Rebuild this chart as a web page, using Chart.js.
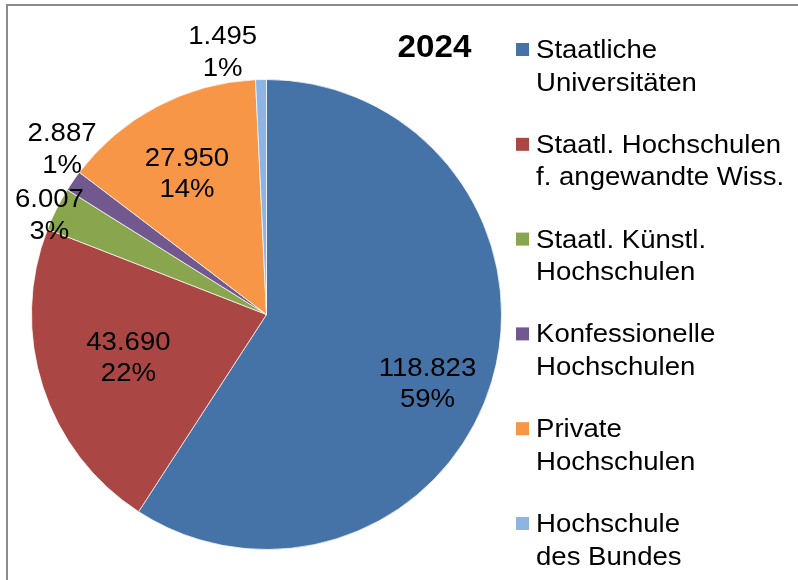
<!DOCTYPE html>
<html lang="de">
<head>
<meta charset="UTF-8">
<title>Studierende 2024</title>
<script src="https://cdn.jsdelivr.net/npm/chart.js"></script>
<style>
  html, body { margin: 0; padding: 0; background: #ffffff; }
  #wrap { position: relative; width: 798px; height: 580px; overflow: hidden; }
  #pie { display: block; }
</style>
</head>
<body>
<div id="wrap">
  <canvas id="pie" width="798" height="580"></canvas>
</div>
<script>
// --- data ---
const chartTitle = '2024';
const categories = [
  ['Staatliche', 'Universitäten'],
  ['Staatl. Hochschulen', 'f. angewandte Wiss.'],
  ['Staatl. Künstl.', 'Hochschulen'],
  ['Konfessionelle', 'Hochschulen'],
  ['Private', 'Hochschulen'],
  ['Hochschule', 'des Bundes']
];
const students = [118823, 43690, 6007, 2887, 27950, 1495];

// --- styles ---
const sliceColors = ['#4572A7', '#AA4643', '#89A54E', '#71588F', '#F79646', '#8EB4E3'];
// label placement: fraction of radius and angle shift (deg) from slice middle
const labelRadius = [0.743, 0.614, 1.018, 1.123, 0.693, 1.138];
const labelShift = [6.3, 1.0, -1.8, 4.6, -1.5, -8.1];

const FONT = '"Liberation Sans", Arial, sans-serif';
const total = students.reduce((a, b) => a + b, 0);

function fmt(n) {
  return String(n).replace(/\B(?=(\d{3})+(?!\d))/g, '.');
}

// draw text stretched a little horizontally, like the original export
function wideText(ctx, text, x, y, align, sx) {
  ctx.save();
  ctx.translate(x, y);
  ctx.scale(sx, 1);
  ctx.textAlign = align;
  ctx.textBaseline = 'alphabetic';
  ctx.fillText(text, 0, 0);
  ctx.restore();
}

const framePlugin = {
  id: 'frame',
  beforeDraw(chart) {
    const ctx = chart.ctx;
    ctx.save();
    ctx.strokeStyle = '#8a8a8a';
    ctx.lineWidth = 2;
    ctx.beginPath();
    ctx.moveTo(7, 580);
    ctx.lineTo(7, 5);
    ctx.lineTo(798, 5);
    ctx.stroke();
    ctx.restore();
  }
};

const labelPlugin = {
  id: 'sliceLabels',
  afterDatasetsDraw(chart) {
    const ctx = chart.ctx;
    const meta = chart.getDatasetMeta(0);
    ctx.save();
    ctx.fillStyle = '#000000';
    ctx.font = '26px ' + FONT;
    meta.data.forEach((arc, i) => {
      const p = arc.getProps(['x', 'y', 'startAngle', 'endAngle', 'outerRadius'], true);
      const mid = (p.startAngle + p.endAngle) / 2 + labelShift[i] * Math.PI / 180;
      const r = p.outerRadius * labelRadius[i];
      const cx = p.x + Math.cos(mid) * r;
      const cy = p.y + Math.sin(mid) * r;
      const pct = Math.round(students[i] / total * 100) + '%';
      const off = 26 * 0.358;
      wideText(ctx, fmt(students[i]), cx, cy - 15.75 + off, 'center', 1.06);
      wideText(ctx, pct, cx, cy + 15.75 + off, 'center', 1.06);
    });
    ctx.restore();
  }
};

const legendPlugin = {
  id: 'sideLegend',
  afterDraw(chart) {
    const ctx = chart.ctx;
    ctx.save();
    // title
    ctx.fillStyle = '#000000';
    ctx.font = 'bold 31px ' + FONT;
    wideText(ctx, chartTitle, 434.5, 57, 'center', 1.07);
    // legend entries
    ctx.font = '26px ' + FONT;
    categories.forEach((lines, i) => {
      const base = 58 + 94.8 * i;
      ctx.fillStyle = sliceColors[i];
      ctx.fillRect(516, base - 15, 13, 13);
      ctx.fillStyle = '#000000';
      lines.forEach((t, k) => wideText(ctx, t, 536, base + 32.5 * k, 'left', 1.06));
    });
    ctx.restore();
  }
};

new Chart(document.getElementById('pie'), {
  type: 'pie',
  data: {
    labels: categories.map(l => l.join(' ')),
    datasets: [{
      data: students,
      backgroundColor: sliceColors,
      borderColor: 'rgba(255,255,255,0.7)',
      borderWidth: 1,
      hoverOffset: 0
    }]
  },
  options: {
    responsive: false,
    animation: false,
    events: [],
    layout: { padding: { left: 31, top: 79, right: 296, bottom: 30 } },
    plugins: {
      legend: { display: false },
      tooltip: { enabled: false },
      title: { display: false }
    }
  },
  plugins: [framePlugin, labelPlugin, legendPlugin]
});
</script>
</body>
</html>
